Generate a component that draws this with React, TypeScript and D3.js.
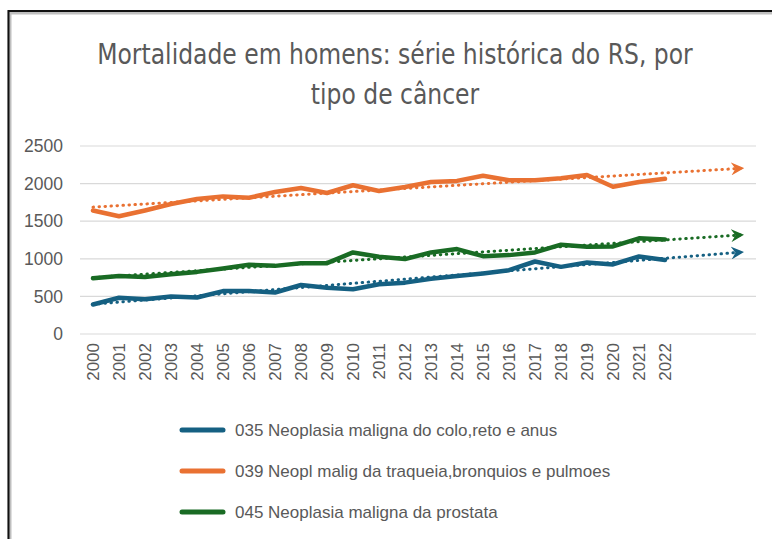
import React, { useEffect, useRef } from "react";
import * as d3 from "d3";

// categories shown on the axis + the 3 forecast periods of the trendlines
const years = [
  "2000", "2001", "2002", "2003", "2004", "2005", "2006", "2007", "2008", "2009", "2010",
  "2011", "2012", "2013", "2014", "2015", "2016", "2017", "2018", "2019", "2020", "2021", "2022",
];
const forecastYears = ["2023", "2024", "2025"];

// deaths per year
const colo = [
  393, 482, 462, 500, 485, 571, 571, 552, 652, 616, 596, 661, 683, 735, 772, 804, 848, 964,
  893, 951, 925, 1031, 985,
];
const pulmao = [
  1643, 1565, 1643, 1728, 1795, 1830, 1812, 1888, 1942, 1875, 1978, 1902, 1955, 2022, 2036,
  2105, 2045, 2045, 2070, 2115, 1958, 2022, 2065,
];
const prostata = [
  741, 772, 759, 795, 826, 870, 920, 906, 942, 942, 1085, 1027, 996, 1085, 1129, 1035, 1049,
  1085, 1188, 1161, 1165, 1272, 1258,
];

const seriesNames = [
  "035 Neoplasia maligna do colo,reto e anus",
  "039 Neopl malig da traqueia,bronquios e pulmoes",
  "045 Neoplasia maligna da prostata",
];
const seriesColors = ["#156082", "#E97132", "#196B24"];
const yTicks = [0, 500, 1000, 1500, 2000, 2500];
const titleLines = ["Mortalidade em homens: série histórica do RS, por", "tipo de câncer"];

const width = 772;
const height = 539;

function App() {
  const ref = useRef<SVGSVGElement>(null);

  useEffect(() => {
    const svg = d3.select(ref.current);
    svg.selectAll("*").remove();

    const series = [colo, pulmao, prostata];
    const allYears = years.concat(forecastYears);

    const x = d3.scalePoint<string>().domain(allYears).range([80, 756]).padding(0.5);
    const y = d3.scaleLinear().domain([0, 2500]).range([334, 146]);

    // frame (only top and left edges are visible in the crop)
    svg
      .append("path")
      .attr("d", `M9.5,${height} V12.5 H${width}`)
      .attr("fill", "none")
      .attr("stroke", "#bfbfbf")
      .attr("stroke-width", 4);
    svg
      .append("path")
      .attr("d", `M8.5,${height} V11 H${width}`)
      .attr("fill", "none")
      .attr("stroke", "#111")
      .attr("stroke-width", 2);

    // title (condensed look: squeeze horizontally)
    const title = svg
      .append("text")
      .attr("text-anchor", "middle")
      .attr("fill", "#595959")
      .attr("transform", "translate(395,0) scale(0.81,1)")
      .style("font-family", "'Liberation Sans Narrow', 'DejaVu Sans', sans-serif")
      .style("font-size", "29px");
    title
      .selectAll("tspan")
      .data(titleLines)
      .enter()
      .append("tspan")
      .attr("x", 0)
      .attr("y", (d, i) => 64 + i * 40)
      .text((d) => d);

    // gridlines + y labels
    svg
      .append("g")
      .selectAll("line")
      .data(yTicks)
      .enter()
      .append("line")
      .attr("x1", 80)
      .attr("x2", 756)
      .attr("y1", (d) => y(d))
      .attr("y2", (d) => y(d))
      .attr("stroke", "#d9d9d9")
      .attr("stroke-width", 1.2);

    svg
      .append("g")
      .selectAll("text")
      .data(yTicks)
      .enter()
      .append("text")
      .attr("x", 63)
      .attr("y", (d) => y(d))
      .attr("dy", "0.35em")
      .attr("text-anchor", "end")
      .attr("fill", "#595959")
      .style("font-family", "'Liberation Sans', Arial, sans-serif")
      .style("font-size", "17.5px")
      .text((d) => d);

    // x labels, rotated
    svg
      .append("g")
      .selectAll("text")
      .data(years)
      .enter()
      .append("text")
      .attr("transform", (d) => `translate(${x(d)},343) rotate(-90)`)
      .attr("dy", "0.35em")
      .attr("text-anchor", "end")
      .attr("fill", "#595959")
      .style("font-family", "'Liberation Sans', Arial, sans-serif")
      .style("font-size", "17px")
      .text((d) => d);

    // series lines
    const line = d3
      .line<number>()
      .x((d, i) => x(years[i]) as number)
      .y((d) => y(d));

    series.forEach((values, k) => {
      svg
        .append("path")
        .datum(values)
        .attr("d", line)
        .attr("fill", "none")
        .attr("stroke", seriesColors[k])
        .attr("stroke-width", 4.5)
        .attr("stroke-linejoin", "round")
        .attr("stroke-linecap", "round");
    });

    // linear trendlines, forward forecast 3 periods, arrow at the end
    const defs = svg.append("defs");
    seriesColors.forEach((c, k) => {
      defs
        .append("marker")
        .attr("id", "arrow" + k)
        .attr("viewBox", "0 0 12 12")
        .attr("refX", 11)
        .attr("refY", 6)
        .attr("markerUnits", "userSpaceOnUse")
        .attr("markerWidth", 13)
        .attr("markerHeight", 13)
        .attr("orient", "auto")
        .append("path")
        .attr("d", "M0,0 L12,6 L0,12 L4,6 Z")
        .attr("fill", c);
    });

    series.forEach((values, k) => {
      const idx = values.map((d, i) => i);
      const mx = d3.mean(idx) as number;
      const my = d3.mean(values) as number;
      const b =
        (d3.sum(idx, (i) => (i - mx) * (values[i] - my)) as number) /
        (d3.sum(idx, (i) => (i - mx) * (i - mx)) as number);
      const a = my - b * mx;
      const last = allYears.length - 1;
      svg
        .append("path")
        .attr(
          "d",
          d3.line()([
            [x(allYears[0]) as number, y(a)],
            [x(allYears[last]) as number, y(a + b * last)],
          ])
        )
        .attr("fill", "none")
        .attr("stroke", seriesColors[k])
        .attr("stroke-width", 3)
        .attr("stroke-linecap", "round")
        .attr("stroke-dasharray", "0.5 5.5")
        .attr("marker-end", `url(#arrow${k})`);
    });

    // legend
    const legend = svg
      .append("g")
      .selectAll("g")
      .data(seriesNames)
      .enter()
      .append("g")
      .attr("transform", (d, i) => `translate(180,${430 + i * 41})`);
    legend
      .append("line")
      .attr("x1", 2)
      .attr("x2", 43)
      .attr("stroke", (d, i) => seriesColors[i])
      .attr("stroke-width", 5)
      .attr("stroke-linecap", "round");
    legend
      .append("text")
      .attr("x", 55)
      .attr("dy", "0.35em")
      .attr("fill", "#595959")
      .style("font-family", "'Liberation Sans', Arial, sans-serif")
      .style("font-size", "17px")
      .text((d) => d);
  }, []);

  return (
    <svg
      ref={ref}
      width={width}
      height={height}
      style={{ position: "absolute", left: 0, top: 0, background: "#fff" }}
    />
  );
}

export default App;
